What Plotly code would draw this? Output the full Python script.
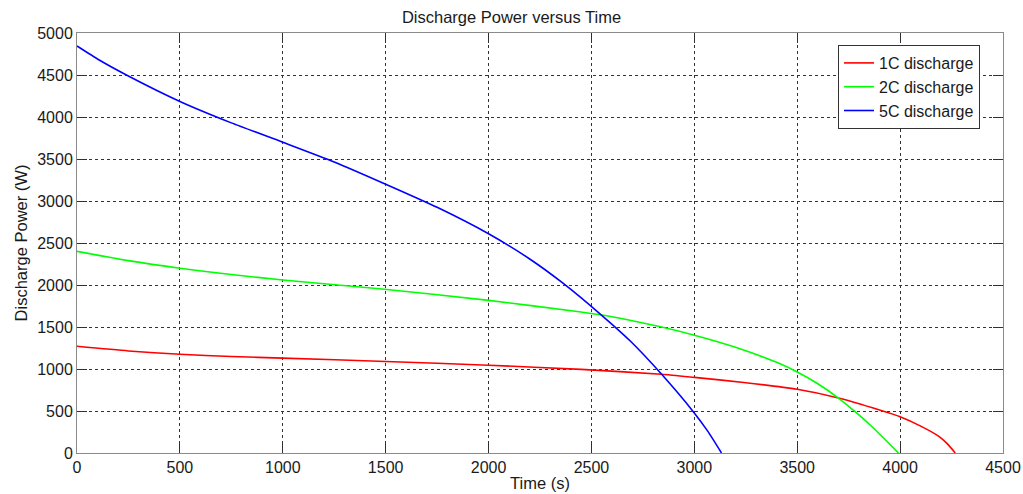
import plotly.graph_objects as go

t_1c = [0, 250, 500, 750, 1000, 1500, 2000, 2450, 2840, 3000, 3240, 3500, 3700, 3900, 4000, 4100, 4190, 4230, 4268]
p_1c = [1270, 1215, 1175, 1148, 1130, 1090, 1045, 995, 937, 900, 840, 758, 655, 512, 432, 320, 195, 108, 0]

t_2c = [0, 250, 500, 750, 1000, 1470, 1990, 2440, 2560, 2830, 3000, 3200, 3400, 3500, 3600, 3700, 3790, 3870, 3992]
p_2c = [2400, 2290, 2200, 2125, 2060, 1955, 1820, 1682, 1640, 1505, 1403, 1259, 1079, 964, 824, 654, 474, 298, 0]

t_5c = [0, 110, 240, 500, 750, 1000, 1250, 1500, 1750, 2000, 2200, 2360, 2540, 2690, 2840, 2995, 3065, 3132]
p_5c = [4845, 4675, 4500, 4185, 3930, 3700, 3465, 3200, 2925, 2610, 2310, 2025, 1660, 1330, 940, 492, 260, 0]

x_ticks = [0, 500, 1000, 1500, 2000, 2500, 3000, 3500, 4000, 4500]
y_ticks = [0, 500, 1000, 1500, 2000, 2500, 3000, 3500, 4000, 4500, 5000]

FONT = "Liberation Sans, Arial, sans-serif"
TXT = "#1a1a1a"

fig = go.Figure()
for t, p, name, col in [(t_1c, p_1c, "1C discharge", "#ff0000"),
                        (t_2c, p_2c, "2C discharge", "#00ff00"),
                        (t_5c, p_5c, "5C discharge", "#0000ff")]:
    fig.add_trace(go.Scatter(x=t, y=p, mode="lines", name=name,
                             line=dict(color=col, width=1.6, shape="spline", smoothing=0.6)))

axis_common = dict(
    showline=True, linecolor="#8a8a8a", linewidth=1, mirror="ticks",
    ticks="inside", ticklen=10, tickcolor="#303030", tickwidth=1,
    showgrid=True, gridcolor="#333333", griddash="dot", gridwidth=1,
    zeroline=False, automargin=False,
    tickfont=dict(family=FONT, size=16, color=TXT),
)

fig.update_layout(
    width=1023, height=494,
    margin=dict(l=77, r=20, t=33, b=41),
    paper_bgcolor="white", plot_bgcolor="white",
    title=dict(text="Discharge Power versus Time", x=0.5, xanchor="center",
               y=0.966, yanchor="middle",
               font=dict(family=FONT, size=16.5, color=TXT)),
    xaxis=dict(range=[0, 4500], tickvals=x_ticks,
               title=dict(text="Time (s)", font=dict(family=FONT, size=16.5, color=TXT), standoff=2),
               **axis_common),
    yaxis=dict(range=[0, 5000], tickvals=y_ticks,
               title=dict(text="Discharge Power (W)", font=dict(family=FONT, size=16.5, color=TXT), standoff=5),
               **axis_common),
    legend=dict(x=(838 - 77) / 926, y=(453 - 45) / 420, xanchor="left", yanchor="top",
                bgcolor="white", bordercolor="#333", borderwidth=1,
                font=dict(family=FONT, size=16, color=TXT),
                tracegroupgap=0, itemwidth=30),
    showlegend=True,
)

fig.write_html("out.html")
